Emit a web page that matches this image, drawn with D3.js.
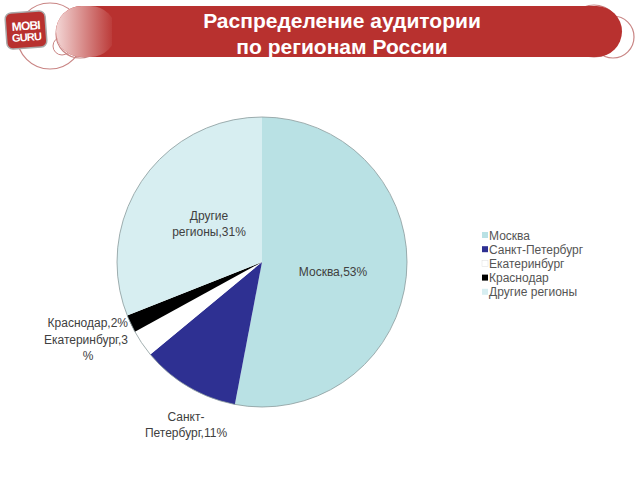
<!DOCTYPE html>
<html><head><meta charset="utf-8">
<script src="https://cdn.jsdelivr.net/npm/d3@7"></script>
<style>body{margin:0;background:#fff;}svg{display:block;font-family:Arial,"Liberation Sans",sans-serif;}</style>
</head><body>
<svg id="c" width="640" height="480"></svg>
<script>
const categories = ["Москва","Санкт-Петербург","Екатеринбург","Краснодар","Другие регионы"];
const values = [53, 11, 3, 2, 31];
const colors = ["#b9e1e4","#2e3092","#ffffff","#000000","#d7eef1"];
const sliceLabels = [["Москва,53%"],["Санкт-","Петербург,11%"],["Екатеринбург,3","%"],["Краснодар,2%"],["Другие","регионы,31%"]];
const titleLines = ["Распределение аудитории","по регионам России"];

const svg = d3.select("#c");
const defs = svg.append("defs");
const g2 = defs.append("linearGradient").attr("id","banl").attr("x1",0).attr("y1",0).attr("x2",1).attr("y2",0);
g2.append("stop").attr("offset","0%").attr("stop-color","#f3d6d5").attr("stop-opacity",1);
g2.append("stop").attr("offset","100%").attr("stop-color","#b8312f").attr("stop-opacity",1);

// Banner decorations
const ban = svg.append("g");
ban.append("circle").attr("cx",50).attr("cy",36).attr("r",33).attr("fill","none").attr("stroke","#c98584").attr("stroke-width",1.2);
ban.append("circle").attr("cx",80).attr("cy",34).attr("r",24).attr("fill","none").attr("stroke","#c98584").attr("stroke-width",1.2);
ban.append("circle").attr("cx",62).attr("cy",46).attr("r",9).attr("fill","none").attr("stroke","#c98584").attr("stroke-width",1);
ban.append("circle").attr("cx",594).attr("cy",31).attr("r",26).attr("fill","none").attr("stroke","#c98584").attr("stroke-width",1.2);
ban.append("circle").attr("cx",613).attr("cy",37).attr("r",21).attr("fill","none").attr("stroke","#c98584").attr("stroke-width",1.2);
ban.append("rect").attr("x",56).attr("y",6).attr("width",566).attr("height",51).attr("rx",25.5).attr("fill","#b8312f");
ban.append("rect").attr("x",56).attr("y",6).attr("width",60).attr("height",51).attr("rx",25.5).attr("fill","url(#banl)");
ban.append("rect").attr("x",112).attr("y",6).attr("width",6).attr("height",51).attr("fill","#b8312f");
// logo
const logo = ban.append("g").attr("transform","rotate(-4,26,30)");
logo.append("rect").attr("x",6).attr("y",12).attr("width",40).attr("height",36).attr("rx",6).attr("fill","#b8312f").attr("stroke","#a9a9a9").attr("stroke-width",1.5);
logo.append("text").attr("x",26).attr("y",30).attr("text-anchor","middle").attr("fill","#fff").attr("font-size",12).attr("font-weight","bold").attr("letter-spacing",-0.8).text("MOBI");
logo.append("text").attr("x",26).attr("y",41).attr("text-anchor","middle").attr("fill","#fff").attr("font-size",11).attr("font-weight","bold").attr("letter-spacing",-0.8).text("GURU");
ban.selectAll("text.t").data(titleLines).enter().append("text").attr("class","t")
  .attr("x",342).attr("y",(d,i)=>28+i*26).attr("text-anchor","middle")
  .attr("fill","#fff").attr("font-size",21).attr("font-weight","bold").text(d=>d);

// Pie
const cx = 262, cy = 262, R = 145;
const pie = d3.pie().sort(null).value(d=>d)(values);
const arc = d3.arc().innerRadius(0).outerRadius(R);
const pg = svg.append("g").attr("transform",`translate(${cx},${cy})`);
pg.selectAll("path").data(pie).enter().append("path")
  .attr("d",arc).attr("fill",(d,i)=>colors[i]).attr("stroke","none");
pg.append("circle").attr("r",R).attr("fill","none").attr("stroke","#8a9a9c").attr("stroke-width",0.8);

// labels
const labelPos = [
  {x:333,y:276,a:"middle"},
  {x:186,y:421,a:"middle"},
  {x:128,y:344,a:"end"},
  {x:128,y:327,a:"end"},
  {x:209,y:220,a:"middle"}
];
const lg = svg.append("g").attr("font-size",12).attr("fill","#404040");
sliceLabels.forEach((lines,i)=>{
  const p = labelPos[i];
  lines.forEach((ln,j)=>{
    let x = p.x, a = p.a;
    if (i===2 && j===1) { x = 88; a = "middle"; }
    lg.append("text").attr("x",x).attr("y",p.y+j*16).attr("text-anchor",a).text(ln);
  });
});

// legend
const leg = svg.append("g").attr("transform","translate(482,235)");
const rows = leg.selectAll("g").data(categories).enter().append("g").attr("transform",(d,i)=>`translate(0,${i*14.2})`);
rows.append("rect").attr("x",0).attr("y",-3).attr("width",6).attr("height",6)
  .attr("fill",(d,i)=>colors[i]).attr("stroke",(d,i)=>i===2?"#ddd":"none").attr("stroke-width",0.5);
rows.append("text").attr("x",7).attr("y",4.5).attr("font-size",12).attr("fill","#555").text(d=>d);
</script>
</body></html>
